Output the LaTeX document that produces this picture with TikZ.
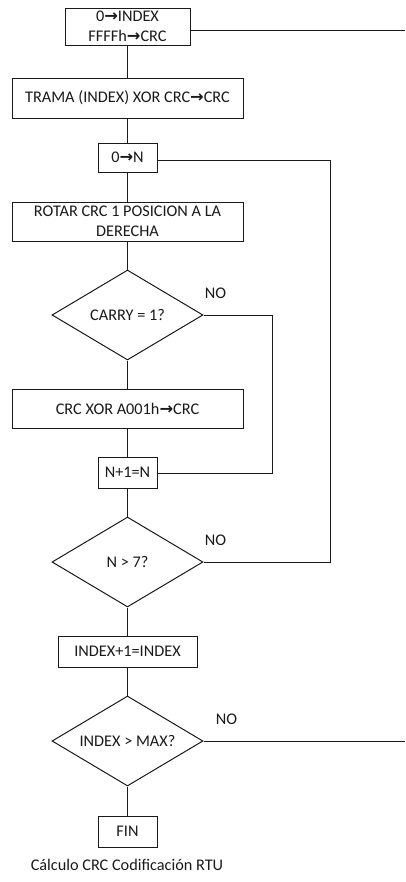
\documentclass[tikz,border=0pt]{standalone}
\usepackage{fontspec}
\setmainfont{Carlito}
\newfontfamily\arrowfont{DejaVu Sans}
\usetikzlibrary{shapes.geometric}
\definecolor{ink}{HTML}{1A1A1A}
\newcommand{\flecha}{{\arrowfont\bfseries\char"2192}}

\begin{document}
\begin{tikzpicture}[
  x=0.75pt, y=-0.75pt,
  every node/.style={font=\fontsize{12.2}{15}\selectfont, text=ink},
  proc/.style={
    draw=ink, line width=0.75pt, fill=white,
    minimum width=#1, align=center, inner sep=2pt
  },
  decision/.style={
    draw=ink, line width=0.75pt, fill=white, diamond, aspect=1.67,
    minimum width=113.25pt, minimum height=67.5pt, inner sep=0pt,
    align=center
  },
  link/.style={line width=0.75pt, ink},
]

% Page frame
\useasboundingbox (0,0) rectangle (405,882);

% ===== Main flow nodes =====

% Start values
\node[proc=93.75pt, minimum height=27.75pt] (init) at (127.5,26.5)
  {0\flecha INDEX\\FFFFh\flecha CRC};

% Frame XOR
\node[proc=173.25pt, minimum height=30pt] (trama) at (127.5,98)
  {TRAMA (INDEX) XOR CRC\flecha CRC};

% Bit counter
\node[proc=44.25pt, minimum height=21.75pt] (zeron) at (127.5,157.5)
  {0\flecha N};

% Shift
\node[proc=173.25pt, minimum height=29.25pt] (rotar) at (127.5,221.5)
  {ROTAR CRC 1 POSICION A LA\\DERECHA};

% Carry test
\node[decision] (carry) at (127.5,315) {CARRY = 1?};
\node (nocarry) at (215.5,293) {NO};

% Polynomial XOR
\node[proc=173.25pt, minimum height=29.25pt] (xora) at (127.5,408.5)
  {CRC XOR A001h\flecha CRC};

% Next bit
\node[proc=44.25pt, minimum height=23.25pt] (incn) at (127.5,472.5)
  {N+1=N};

% Bit test
\node[decision] (nmax) at (127.5,562) {N > 7?};
\node (nonmax) at (215.5,540) {NO};

% Next byte
\node[proc=104.25pt, minimum height=23.25pt] (incidx) at (127.5,651.5)
  {INDEX+1=INDEX};

% Byte test
\node[decision] (imax) at (127.5,741) {INDEX > MAX?};
\node (noimax) at (226.5,719) {NO};

% End
\node[proc=44.25pt, minimum height=23.25pt] (fin) at (127.5,831.5)
  {FIN};

% Caption
\node (caption) at (127,865) {Cálculo CRC Codificación RTU};

% ===== Connectors =====
\draw[link] (init) -- (trama);
\draw[link] (trama) -- (zeron);
\draw[link] (zeron) -- (rotar);
\draw[link] (rotar) -- (carry);
\draw[link] (carry) -- (xora);
\draw[link] (xora) -- (incn);
\draw[link] (incn) -- (nmax);
\draw[link] (nmax) -- (incidx);
\draw[link] (incidx) -- (imax);
\draw[link] (imax) -- (fin);

% Loop back lines
\coordinate (outtop) at (405,30);
\coordinate (outbot) at (405,741);
\draw[link] (init.east |- outtop) -- (outtop);
\draw[link] (carry.east) -| (272,473) -- (incn.east |- 0,473);
\draw[link] (zeron.east |- 0,160.5) -| (330,562) -- (nmax.east);
\draw[link] (imax.east) -- (outbot);

\end{tikzpicture}
\end{document}
